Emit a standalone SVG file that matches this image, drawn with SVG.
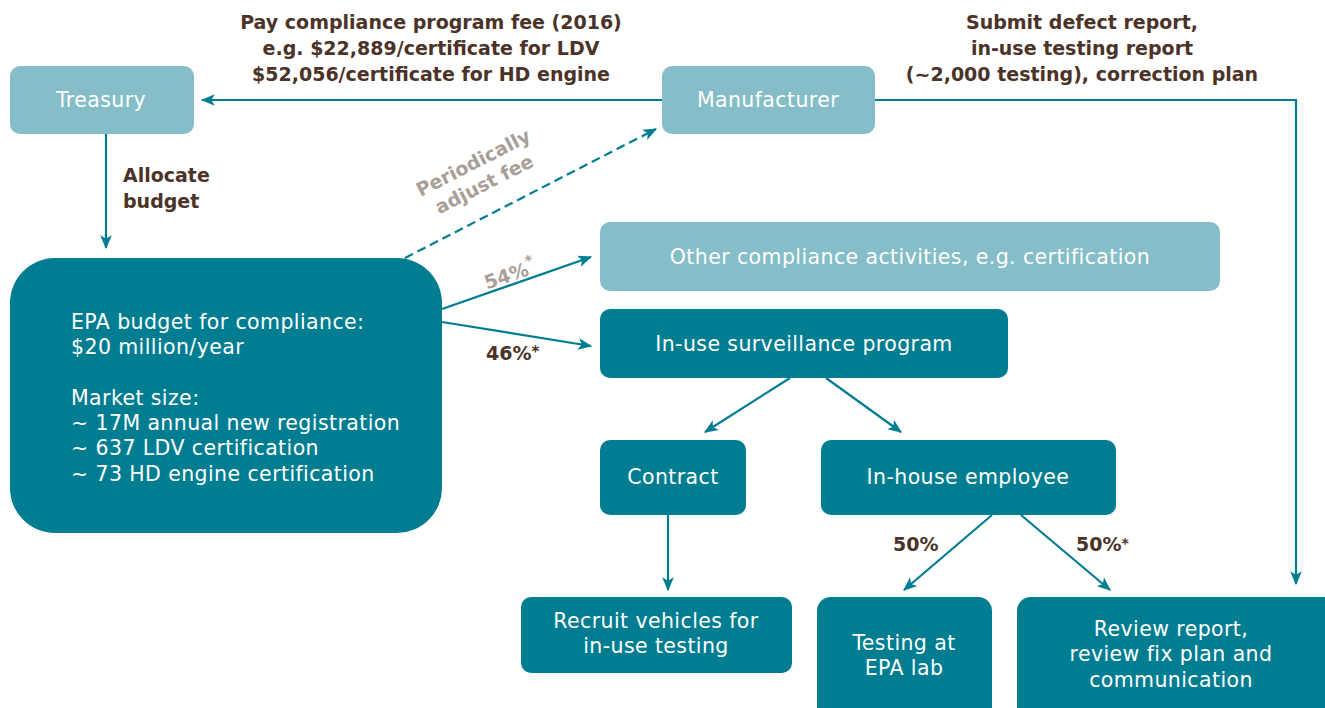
<svg xmlns="http://www.w3.org/2000/svg" width="1325" height="708" viewBox="0 0 1325 708">
<style>
text{font-family:"DejaVu Sans","Liberation Sans",sans-serif;}
.lt{fill:#85BEC8;}
.dk{fill:#007D91;}
.w{fill:#fff;font-size:20.5px;letter-spacing:0.4px;text-anchor:middle;}
.wl{fill:#fff;font-size:20.5px;letter-spacing:0.4px;}
.br{fill:#4B3328;font-size:19px;font-weight:bold;}
.gr{fill:#A89F98;font-size:19px;font-weight:bold;}
.c{fill:none;stroke:#007D91;stroke-width:2.2;}
</style>
<defs>
<marker id="ah" viewBox="0 0 12 10" refX="11" refY="5" markerWidth="14" markerHeight="12" markerUnits="userSpaceOnUse" orient="auto">
<path d="M0,0 L12,5 L0,10 L3,5 z" fill="#007D91"/>
</marker>
</defs>
<g id="connectors">
<line class="c" x1="662" y1="100" x2="202" y2="100" marker-end="url(#ah)"/>
<polyline class="c" points="875,100 1296,100 1296,584" marker-end="url(#ah)"/>
<line class="c" x1="106" y1="134" x2="106" y2="248" marker-end="url(#ah)"/>
<line class="c" x1="405" y1="258" x2="656" y2="129" stroke-dasharray="9,5" marker-end="url(#ah)"/>
<line class="c" x1="442" y1="309" x2="591" y2="257" marker-end="url(#ah)"/>
<line class="c" x1="442" y1="322" x2="591" y2="346" marker-end="url(#ah)"/>
<line class="c" x1="790" y1="378" x2="705" y2="432" marker-end="url(#ah)"/>
<line class="c" x1="826" y1="378" x2="901" y2="432" marker-end="url(#ah)"/>
<line class="c" x1="668" y1="515" x2="668" y2="590" marker-end="url(#ah)"/>
<line class="c" x1="992" y1="515" x2="904" y2="590" marker-end="url(#ah)"/>
<line class="c" x1="1021" y1="515" x2="1110" y2="590" marker-end="url(#ah)"/>
</g>
<g id="labels">
<text class="br" x="431" y="29" text-anchor="middle">Pay compliance program fee (2016)</text>
<text class="br" x="431" y="55" text-anchor="middle">e.g. $22,889/certificate for LDV</text>
<text class="br" x="431" y="81" text-anchor="middle">$52,056/certificate for HD engine</text>
<text class="br" x="1082" y="29" text-anchor="middle">Submit defect report,</text>
<text class="br" x="1082" y="55" text-anchor="middle">in-use testing report</text>
<text class="br" x="1082" y="81" text-anchor="middle">(~2,000 testing), correction plan</text>
<text class="br" x="123" y="182">Allocate</text>
<text class="br" x="123" y="208">budget</text>
<g transform="translate(479,174) rotate(-27)">
<text class="gr" x="0" y="-6" text-anchor="middle">Periodically</text>
<text class="gr" x="0" y="18" text-anchor="middle">adjust fee</text>
</g>
<text class="gr" font-size="21" transform="translate(512,281) rotate(-19)" text-anchor="middle">54%<tspan font-size="14" dy="-9">*</tspan></text>
<text class="br" font-size="21" x="486" y="360">46%<tspan font-size="15" dy="-3">*</tspan></text>
<text class="br" x="893" y="551">50%</text>
<text class="br" x="1076" y="551">50%<tspan font-size="14" dy="-3">*</tspan></text>
</g>
<g id="treasury">
<rect class="lt" x="10" y="66" width="184" height="68" rx="10"/>
<text class="w" x="101" y="107">Treasury</text>
</g>
<g id="manufacturer">
<rect class="lt" x="662" y="66" width="213" height="68" rx="10"/>
<text class="w" x="768" y="107">Manufacturer</text>
</g>
<g id="epa">
<rect class="dk" x="10" y="258" width="432" height="275" rx="45"/>
<text class="wl" x="71" y="329">EPA budget for compliance:</text>
<text class="wl" x="71" y="354">$20 million/year</text>
<text class="wl" x="71" y="405">Market size:</text>
<text class="wl" x="71" y="430">~ 17M annual new registration</text>
<text class="wl" x="71" y="455">~ 637 LDV certification</text>
<text class="wl" x="71" y="481">~ 73 HD engine certification</text>
</g>
<g id="other">
<rect class="lt" x="600" y="222" width="620" height="69" rx="10"/>
<text class="w" x="910" y="264">Other compliance activities, e.g. certification</text>
</g>
<g id="surveillance">
<rect class="dk" x="600" y="309" width="408" height="69" rx="10"/>
<text class="w" x="804" y="351">In-use surveillance program</text>
</g>
<g id="contract">
<rect class="dk" x="600" y="440" width="146" height="75" rx="10"/>
<text class="w" x="673" y="484">Contract</text>
</g>
<g id="inhouse">
<rect class="dk" x="821" y="440" width="295" height="75" rx="10"/>
<text class="w" x="968" y="484">In-house employee</text>
</g>
<g id="recruit">
<rect class="dk" x="521" y="597" width="271" height="76" rx="10"/>
<text class="w" x="656" y="628">Recruit vehicles for</text>
<text class="w" x="656" y="653">in-use testing</text>
</g>
<g id="testing">
<rect class="dk" x="817" y="597" width="175" height="130" rx="14"/>
<text class="w" x="904" y="650">Testing at</text>
<text class="w" x="904" y="675">EPA lab</text>
</g>
<g id="review">
<rect class="dk" x="1017" y="597" width="330" height="130" rx="14"/>
<text class="w" x="1171" y="636">Review report,</text>
<text class="w" x="1171" y="661">review fix plan and</text>
<text class="w" x="1171" y="687">communication</text>
</g>
</svg>
